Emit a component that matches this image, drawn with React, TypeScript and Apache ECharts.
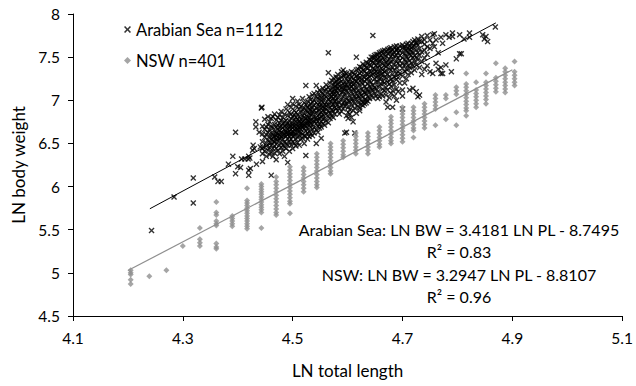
import React, { useEffect, useRef } from "react";
import * as echarts from "echarts";

// ---- Data ----
const xTicks = [4.1, 4.3, 4.5, 4.7, 4.9, 5.1];
const yTicks = [4.5, 5, 5.5, 6, 6.5, 7, 7.5, 8];

const arabianName = "Arabian Sea n=1112";
const nswName = "NSW n=401";

// Arabian Sea points, grouped as [x, [y...]]
const arabianColumns: [number, number[]][] = [
  [4.243, [5.49]], [4.284, [5.88]], [4.319, [6.10, 5.81]], [4.358, [6.11]],
  [4.364, [6.06]], [4.370, [6.06]], [4.383, [6.26]], [4.391, [6.35]],
  [4.396, [6.15, 6.63]], [4.400, [6.23]], [4.405, [6.22]], [4.407, [6.32]],
  [4.413, [6.32]], [4.419, [6.32]], [4.420, [6.19, 6.13, 6.35]], [4.423, [6.21]],
  [4.422, [6.33]], [4.427, [6.42]], [4.428, [6.48]], [4.430, [6.44]],
  [4.433, [6.69, 6.75]], [4.434, [6.26]], [4.439, [6.63]], [4.441, [6.46]],
  [4.443, [6.91]], [4.444, [6.92]], [4.446, [6.46]],
  [4.445, [6.38, 6.52, 6.61, 6.70, 6.44, 6.29]],
  [4.449, [6.57, 6.66, 6.41, 6.78]],
  [4.452, [6.69, 6.35, 6.50, 6.60, 6.47]],
  [4.455, [6.81, 6.63, 6.54, 6.42, 6.72]],
  [4.458, [6.45, 6.58, 6.66, 6.37, 6.75, 6.51]],
  [4.461, [6.13, 6.48, 6.62, 6.70, 6.55, 6.40, 6.79]],
  [4.464, [6.81, 6.53, 6.60, 6.44, 6.68, 6.35, 6.57]],
  [4.467, [6.47, 6.64, 6.72, 6.58, 6.39, 6.52, 6.84]],
  [4.470, [6.55, 6.62, 6.49, 6.77, 6.69, 6.31, 6.59, 6.44]],
  [4.473, [6.66, 6.53, 6.71, 6.42, 6.80, 6.61, 6.57]],
  [4.476, [6.83, 6.60, 6.48, 6.74, 6.65, 6.38, 6.56, 6.69]],
  [4.479, [6.58, 6.70, 6.51, 6.63, 6.45, 6.77, 6.87]],
  [4.482, [6.62, 6.73, 6.55, 6.41, 6.68, 6.80, 6.59, 6.48]],
  [4.485, [6.66, 6.52, 6.75, 6.61, 6.84, 6.46, 6.70, 6.35]],
  [4.488, [6.71, 6.58, 6.64, 6.90, 6.50, 6.77, 6.62, 6.44]],
  [4.491, [6.28, 6.60, 6.73, 6.67, 6.55, 6.82, 6.48, 6.95, 6.63]],
  [4.494, [6.69, 6.76, 6.58, 6.86, 6.52, 6.64, 6.41, 6.72]],
  [4.497, [6.62, 6.79, 6.70, 6.55, 6.92, 6.48, 6.66, 6.84, 6.60]],
  [4.500, [6.74, 6.58, 6.68, 6.81, 6.52, 6.96, 6.63, 6.44, 6.71, 7.02]],
  [4.503, [6.66, 6.88, 6.59, 6.77, 6.70, 6.50, 6.83, 6.62]],
  [4.506, [6.72, 6.61, 6.80, 6.55, 6.93, 6.68, 6.47, 6.75, 6.86]],
  [4.509, [6.64, 6.78, 6.70, 6.57, 6.99, 6.84, 6.51, 6.67]],
  [4.512, [6.81, 6.69, 6.59, 6.90, 6.74, 6.63, 6.48, 6.95, 6.76]],
  [4.515, [6.70, 6.86, 6.62, 6.78, 6.55, 6.93, 6.73, 6.66]],
  [4.518, [6.75, 6.61, 6.89, 6.69, 7.02, 6.82, 6.56, 6.72]],
  [4.521, [6.84, 6.67, 6.77, 6.59, 6.97, 6.71, 6.91, 6.50, 6.80]],
  [4.524, [7.17, 6.36, 6.73, 6.88, 6.64, 6.79, 6.95, 6.70, 6.58]],
  [4.527, [6.86, 6.75, 6.62, 6.99, 6.81, 6.68, 6.92, 6.55, 6.77]],
  [4.530, [6.71, 6.90, 6.80, 6.64, 7.04, 6.85, 6.58, 6.76, 6.94]],
  [4.533, [6.83, 6.69, 6.96, 6.77, 6.61, 6.89, 7.01, 6.73]],
  [4.536, [6.92, 6.78, 6.66, 7.06, 6.84, 6.72, 6.98, 6.59, 6.87]],
  [4.539, [6.75, 6.88, 7.00, 6.81, 6.68, 6.94, 6.62, 7.08]],
  [4.543, [7.17, 6.50, 6.86, 6.73, 6.97, 6.80, 7.04, 6.91, 6.66, 6.77]],
  [4.546, [6.95, 6.82, 7.09, 6.70, 6.88, 7.02, 6.76, 6.63]],
  [4.549, [6.89, 7.05, 6.79, 6.97, 6.72, 6.84, 7.12, 6.68, 6.93]],
  [4.552, [6.56, 7.00, 6.86, 6.94, 6.75, 7.10, 6.81, 6.69, 7.03]],
  [4.555, [6.92, 7.07, 6.83, 6.98, 6.73, 7.14, 6.88, 6.78]],
  [4.558, [7.02, 6.87, 6.95, 6.79, 7.11, 6.71, 6.91, 7.06]],
  [4.561, [6.97, 7.13, 6.84, 7.04, 6.90, 6.76, 7.18, 6.94]],
  [4.565, [7.55, 7.32, 7.01, 6.88, 7.09, 6.95, 6.81, 7.15, 6.74]],
  [4.568, [7.06, 6.92, 7.20, 6.99, 6.85, 7.12, 6.79, 7.03]],
  [4.571, [6.98, 7.14, 7.04, 6.89, 7.23, 6.82, 7.09, 6.94]],
  [4.574, [7.10, 6.95, 7.18, 7.02, 6.87, 7.26, 6.80, 7.07]],
  [4.577, [7.04, 7.21, 6.92, 7.13, 6.99, 6.84, 7.16, 7.08]],
  [4.579, [7.17, 7.00, 7.27, 6.90, 7.11, 6.96, 7.22]],
  [4.582, [7.08, 7.24, 6.95, 7.14, 7.03, 6.88, 7.30, 7.19]],
  [4.585, [7.25, 7.12, 6.98, 7.20, 7.06, 6.91, 7.16, 6.84]],
  [4.589, [7.27, 7.01, 7.15, 7.33, 6.94, 7.09, 7.22, 6.87]],
  [4.592, [7.13, 7.28, 7.04, 7.19, 6.97, 7.35, 7.10, 6.90]],
  [4.595, [7.32, 6.62, 7.07, 7.21, 7.14, 6.99, 7.29, 6.93, 7.17]],
  [4.598, [6.63, 7.18, 7.03, 7.25, 7.11, 6.96, 7.31, 6.82]],
  [4.601, [7.22, 7.09, 7.28, 7.00, 7.15, 6.92, 6.86, 6.79]],
  [4.604, [7.14, 7.30, 7.05, 7.24, 6.98, 6.84, 7.19, 6.89]],
  [4.607, [7.27, 7.10, 7.20, 7.02, 7.33, 6.94, 7.16, 6.80]],
  [4.610, [7.18, 7.32, 7.07, 7.25, 6.99, 6.88, 7.13, 6.75]],
  [4.613, [6.62, 7.23, 7.12, 7.30, 7.04, 6.91, 6.96, 7.19]],
  [4.616, [7.50, 7.28, 7.15, 7.35, 7.08, 7.22, 7.01, 6.85]],
  [4.619, [7.20, 7.36, 7.11, 7.29, 7.05, 6.93, 6.97, 7.25]],
  [4.622, [7.31, 7.17, 7.39, 7.09, 7.26, 7.02, 6.88, 6.91]],
  [4.625, [7.24, 7.38, 7.13, 7.33, 7.06, 7.21, 6.99, 6.95]],
  [4.628, [7.35, 7.19, 7.42, 7.11, 7.28, 7.04, 6.98, 6.94]],
  [4.631, [7.27, 7.40, 7.16, 7.34, 7.09, 6.96, 7.22, 7.01]],
  [4.634, [7.38, 7.24, 7.44, 7.13, 7.31, 7.07, 7.00, 6.97]],
  [4.637, [7.30, 7.43, 7.19, 7.37, 7.12, 7.26, 7.04, 6.99]],
  [4.640, [7.41, 7.27, 7.47, 7.16, 7.34, 7.09, 7.02, 7.22]],
  [4.643, [7.33, 7.46, 7.21, 7.40, 7.14, 7.29, 7.06, 7.50]],
  [4.646, [7.75, 7.44, 7.30, 7.50, 7.18, 7.37, 7.11, 7.03]],
  [4.649, [7.36, 7.49, 7.25, 7.43, 7.15, 7.32, 7.52, 7.08]],
  [4.652, [7.47, 7.33, 7.53, 7.21, 7.40, 7.13, 7.05, 7.27]],
  [4.655, [7.48, 7.32, 7.44, 7.21, 7.38, 7.10, 7.28, 7.53, 7.02]],
  [4.658, [7.04, 7.40, 7.25, 7.50, 7.15, 7.45, 7.33, 7.55]],
  [4.661, [7.46, 7.30, 7.52, 7.19, 7.37, 7.08, 7.56, 7.26]],
  [4.664, [7.35, 7.49, 7.22, 7.42, 7.13, 7.57, 7.31, 7.05]],
  [4.667, [7.47, 7.33, 7.53, 7.20, 7.40, 7.11, 7.58, 7.27]],
  [4.670, [6.98, 7.39, 7.51, 7.26, 7.44, 7.15, 7.34, 7.57, 7.06]],
  [4.673, [6.92, 7.46, 7.30, 7.54, 7.21, 7.41, 7.12, 7.59]],
  [4.676, [7.42, 7.55, 7.28, 7.48, 7.19, 7.36, 7.03, 7.60]],
  [4.679, [7.51, 7.35, 7.57, 7.24, 7.44, 7.16, 7.61, 7.08]],
  [4.682, [6.92, 7.38, 7.53, 7.30, 7.47, 7.22, 7.58, 7.11]],
  [4.685, [7.56, 7.42, 7.27, 7.51, 7.35, 7.62, 7.18, 7.05]],
  [4.689, [7.58, 7.52, 7.00, 7.38, 7.59, 7.31, 7.45, 7.24, 7.63, 7.13]],
  [4.692, [7.43, 7.60, 7.33, 7.49, 7.26, 7.55, 7.10]],
  [4.695, [7.57, 7.40, 7.52, 7.31, 7.46, 7.63, 7.20]],
  [4.700, [6.90, 7.12, 7.49, 7.61, 7.37, 7.55, 7.42, 7.28, 7.64, 7.05]],
  [4.704, [7.62, 7.54, 7.41, 7.60, 7.47, 7.33, 7.20]],
  [4.707, [7.51, 7.65, 7.44, 7.58, 7.36, 7.25]],
  [4.710, [7.60, 7.48, 7.66, 7.40, 7.55, 7.30]],
  [4.713, [7.12, 7.53, 7.63, 7.46, 7.59, 7.38]],
  [4.716, [7.66, 7.52, 7.61, 7.43, 7.57, 7.32]],
  [4.719, [7.14, 7.56, 7.68, 7.49, 7.62, 7.40]],
  [4.722, [7.63, 7.52, 7.70, 7.45, 7.35]],
  [4.725, [7.66, 7.10, 7.67, 7.58, 7.50, 7.41]],
  [4.728, [7.04, 7.64, 7.55, 7.71, 7.47]],
  [4.731, [7.06, 7.68, 7.60, 7.52, 7.38]],
  [4.735, [7.68, 7.74, 7.30, 7.56, 7.45]],
  [4.740, [7.65, 7.58, 7.36, 7.70, 7.49]],
  [4.745, [7.75, 7.62, 7.40, 7.53]],
  [4.750, [7.70, 7.33, 7.60]],
  [4.755, [7.76, 7.31, 7.66]],
  [4.758, [7.77, 7.62]],
  [4.761, [7.43, 7.70]],
  [4.765, [7.36, 7.55]],
  [4.770, [7.31, 7.38, 7.73]],
  [4.773, [7.31, 7.66]],
  [4.779, [7.41, 7.76]],
  [4.785, [7.73]],
  [4.789, [7.33]],
  [4.791, [7.78, 7.74]],
  [4.798, [7.48]],
  [4.804, [7.54, 7.76]],
  [4.807, [7.54]],
  [4.812, [7.71]],
  [4.822, [7.78, 7.73]],
  [4.846, [7.76]],
  [4.849, [7.71]],
  [4.852, [7.74]],
  [4.855, [7.68]],
  [4.869, [7.85]],
];

// NSW points, grouped as [x, [y...]]
const nswColumns: [number, number[]][] = [
  [4.205, [5.03, 5.00, 4.98, 4.92, 4.87]],
  [4.239, [4.96]],
  [4.270, [5.03]],
  [4.300, [5.31]],
  [4.331, [5.52, 5.39, 5.35, 5.31]],
  [4.361, [5.82, 5.70, 5.67, 5.60, 5.57, 5.55, 5.34, 5.30, 5.28]],
  [4.390, [5.66, 5.63, 5.60, 5.57, 5.54]],
  [4.417, [5.98, 5.84, 5.81, 5.78, 5.75, 5.72, 5.69, 5.66, 5.63, 5.60, 5.57, 5.54, 5.51]],
  [4.443, [6.03, 6.00, 5.97, 5.94, 5.91, 5.88, 5.85, 5.82, 5.79, 5.76, 5.73, 5.70, 5.52]],
  [4.470, [6.11, 6.06, 6.02, 5.98, 5.94, 5.90, 5.86, 5.82, 5.78, 5.74, 5.70, 5.67]],
  [4.495, [6.23, 6.19, 6.15, 6.11, 6.07, 6.03, 5.99, 5.95, 5.91, 5.87, 5.83, 5.80, 5.69]],
  [4.520, [6.22, 6.18, 6.14, 6.10, 6.06, 6.02, 5.98, 5.94]],
  [4.544, [6.38, 6.34, 6.30, 6.26, 6.22, 6.18, 6.14, 6.10, 6.06, 6.02, 5.99]],
  [4.569, [6.50, 6.46, 6.42, 6.38, 6.34, 6.30, 6.26, 6.22, 6.18, 6.15]],
  [4.592, [6.53, 6.49, 6.45, 6.41, 6.37, 6.34]],
  [4.615, [6.62, 6.58, 6.54, 6.50, 6.46, 6.42, 6.38]],
  [4.637, [6.62, 6.58, 6.54, 6.50, 6.46, 6.42, 6.38]],
  [4.658, [6.69, 6.65, 6.61, 6.57, 6.53, 6.49, 6.46]],
  [4.679, [6.81, 6.77, 6.73, 6.69, 6.65, 6.61, 6.57, 6.53, 6.50]],
  [4.700, [6.92, 6.88, 6.84, 6.80, 6.76, 6.72, 6.68, 6.64, 6.60, 6.56, 6.52]],
  [4.720, [6.92, 6.88, 6.84, 6.80, 6.76, 6.72, 6.68, 6.65, 6.57]],
  [4.740, [6.96, 6.92, 6.88, 6.84, 6.80, 6.76, 6.72, 6.68]],
  [4.760, [7.06, 7.02, 6.98, 6.94, 6.90, 6.71]],
  [4.779, [7.06, 7.02, 6.78]],
  [4.798, [7.15, 7.11, 7.07, 6.86, 6.71]],
  [4.816, [7.31, 7.19, 7.15, 7.11, 7.07, 7.03, 6.99, 6.95, 6.91, 6.88, 6.82]],
  [4.834, [7.21, 7.12, 7.08, 7.04, 7.00, 6.96, 6.92]],
  [4.852, [7.31, 7.21, 7.17, 7.13, 7.09, 7.05, 7.01, 6.96]],
  [4.870, [7.43, 7.26, 7.22, 7.18, 7.14, 7.10]],
  [4.887, [7.37, 7.33, 7.29, 7.25, 7.21, 7.17, 7.13, 7.09]],
  [4.904, [7.45, 7.33, 7.29, 7.25, 7.21, 7.17]],
];

// Trend line end points (from the fitted equations shown)
const arabianTrend: [number, number][] = [[4.24, 5.743], [4.87, 7.897]];
const nswTrend: [number, number][] = [[4.2, 5.027], [4.9, 7.353]];

const equationLines = [
  "Arabian Sea: LN BW = 3.4181 LN PL - 8.7495",
  "R² = 0.83",
  "NSW: LN BW = 3.2947 LN PL - 8.8107",
  "R² = 0.96",
];

const flatten = (cols: [number, number[]][]) =>
  cols.flatMap(([x, ys]) => ys.map((y) => [x, y]));

const FONT = "Lato, 'Open Sans', sans-serif";
const CROSS =
  "path://M0,1.6L1.6,0L5,3.4L8.4,0L10,1.6L6.6,5L10,8.4L8.4,10L5,6.6L1.6,10L0,8.4L3.4,5Z";
const GREY = "#8f8f8f";

export default function App() {
  const ref = useRef<HTMLDivElement>(null);
  useEffect(() => {
    document.body.style.margin = "0";
    if (!ref.current) return;
    const chart = echarts.init(ref.current, undefined, { renderer: "svg" });
    chart.setOption({
      animation: false,
      backgroundColor: "#fff",
      textStyle: { fontFamily: FONT },
      grid: { left: 73, right: 12, top: 14, bottom: 70 },
      legend: {
        orient: "vertical",
        left: 119,
        top: 16,
        itemWidth: 7,
        itemHeight: 7,
        itemGap: 14,
        itemTextGap: 7,
        data: [arabianName, nswName],
        textStyle: { fontFamily: FONT, fontSize: 16.5, color: "#000" },
      },
      xAxis: {
        type: "value",
        min: xTicks[0],
        max: xTicks[xTicks.length - 1],
        interval: 0.2,
        name: "LN total length",
        nameLocation: "middle",
        nameGap: 46,
        nameTextStyle: { fontFamily: FONT, fontSize: 17, color: "#000" },
        axisLine: { show: true, lineStyle: { color: "#000", width: 1 } },
        axisTick: { show: true, length: 5, lineStyle: { color: "#000" } },
        axisLabel: {
          fontFamily: FONT,
          fontSize: 15.5,
          color: "#000",
          margin: 14,
          showMaxLabel: true,
          formatter: (v: number) => v.toFixed(1),
        },
        splitLine: { show: false },
      },
      yAxis: {
        type: "value",
        min: yTicks[0],
        max: yTicks[yTicks.length - 1],
        interval: 0.5,
        name: "LN body weight",
        nameLocation: "middle",
        nameGap: 42,
        nameTextStyle: { fontFamily: FONT, fontSize: 17, color: "#000" },
        axisLine: { show: true, lineStyle: { color: "#000", width: 1 } },
        axisTick: { show: true, length: 5, lineStyle: { color: "#000" } },
        axisLabel: { fontFamily: FONT, fontSize: 15.5, color: "#000", margin: 13 },
        splitLine: { show: false },
      },
      series: [
        {
          name: arabianName,
          type: "scatter",
          symbol: CROSS,
          symbolSize: 6,
          itemStyle: { color: "#000" },
          data: flatten(arabianColumns),
          z: 2,
        },
        {
          name: nswName,
          type: "scatter",
          symbol: "diamond",
          symbolSize: 6,
          itemStyle: { color: GREY },
          data: flatten(nswColumns),
          z: 3,
        },
        {
          type: "line",
          data: arabianTrend,
          showSymbol: false,
          symbol: "none",
          lineStyle: { color: "#000", width: 1 },
          silent: true,
          z: 4,
        },
        {
          type: "line",
          data: nswTrend,
          showSymbol: false,
          symbol: "none",
          lineStyle: { color: GREY, width: 1.2 },
          silent: true,
          z: 4,
        },
      ],
      graphic: equationLines.map((t, i) => ({
        type: "text",
        x: 459,
        y: [229, 251, 274, 296][i],
        style: {
          text: t,
          fontFamily: FONT,
          fontSize: 16,
          fill: "#000",
          align: "center",
          verticalAlign: "middle",
        },
      })),
    });
    return () => chart.dispose();
  }, []);
  return <div ref={ref} style={{ width: 636, height: 386 }} />;
}
